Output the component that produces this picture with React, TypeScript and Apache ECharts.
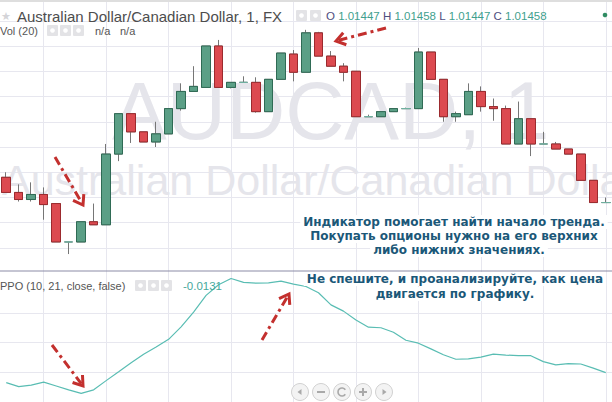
import React, { useEffect, useRef } from "react";
import * as echarts from "echarts";

// ---------- data ----------
const categories = [
  "10:00", "10:01", "10:02", "10:03", "10:04", "10:05", "10:06", "10:07", "10:08", "10:09",
  "10:10", "10:11", "10:12", "10:13", "10:14", "10:15", "10:16", "10:17", "10:18", "10:19",
  "10:20", "10:21", "10:22", "10:23", "10:24", "10:25", "10:26", "10:27", "10:28", "10:29",
  "10:30", "10:31", "10:32", "10:33", "10:34", "10:35", "10:36", "10:37", "10:38", "10:39",
  "10:40", "10:41", "10:42", "10:43", "10:44", "10:45", "10:46", "10:47", "10:48",
];

const openPrices = [
  1.0147, 1.01455, 1.01448, 1.01453, 1.01444, 1.01406, 1.01406, 1.01426, 1.01423, 1.01493,
  1.01533, 1.01515, 1.01505, 1.01513, 1.01538, 1.01555, 1.01559, 1.016, 1.01559, 1.01564,
  1.01564, 1.01535, 1.01567, 1.01592, 1.01574, 1.01613, 1.0159, 1.0158, 1.01575, 1.0153,
  1.0153, 1.01535, 1.01538, 1.01538, 1.01594, 1.01567, 1.0153, 1.01532, 1.01555, 1.0154,
  1.01538, 1.01503, 1.01528, 1.01503, 1.01503, 1.01498, 1.01493, 1.01467, 1.01445,
];
const closePrices = [
  1.01455, 1.01448, 1.01453, 1.01443, 1.01406, 1.01406, 1.01426, 1.01423, 1.01493, 1.01533,
  1.01515, 1.01505, 1.01513, 1.01538, 1.01555, 1.0156, 1.016, 1.01559, 1.01564, 1.01564,
  1.01535, 1.01567, 1.01593, 1.01574, 1.01613, 1.0159, 1.0158, 1.01574, 1.0153, 1.0153,
  1.01535, 1.01538, 1.01538, 1.01594, 1.01567, 1.0153, 1.01533, 1.01555, 1.0154, 1.01538,
  1.01503, 1.01528, 1.01503, 1.01503, 1.01498, 1.01493, 1.01467, 1.01445, 1.01445,
];
const lowPrices = [
  1.01455, 1.01446, 1.01446, 1.01428, 1.01406, 1.01394, 1.01406, 1.01423, 1.01423, 1.01486,
  1.01504, 1.01505, 1.015, 1.01513, 1.01536, 1.01555, 1.01559, 1.01559, 1.01558, 1.01564,
  1.01534, 1.01535, 1.01567, 1.01565, 1.01574, 1.0159, 1.0158, 1.01565, 1.0153, 1.0153,
  1.0153, 1.01535, 1.01538, 1.01538, 1.01567, 1.01525, 1.01525, 1.01532, 1.01535, 1.01526,
  1.01503, 1.01503, 1.01491, 1.01503, 1.01498, 1.01493, 1.01467, 1.01445, 1.01445,
];
const highPrices = [
  1.01475, 1.01463, 1.01465, 1.0146, 1.01444, 1.01406, 1.01426, 1.01444, 1.01503, 1.01533,
  1.01533, 1.01515, 1.01525, 1.01538, 1.01563, 1.0158, 1.016, 1.01606, 1.01564, 1.0157,
  1.01569, 1.01567, 1.01593, 1.01596, 1.01616, 1.01614, 1.01595, 1.01583, 1.01575, 1.01532,
  1.01535, 1.01538, 1.01539, 1.01598, 1.01594, 1.01567, 1.01535, 1.01563, 1.0156, 1.01548,
  1.01541, 1.01545, 1.01528, 1.01515, 1.01505, 1.01498, 1.01493, 1.01467, 1.0145,
];

const ppoValues = [
  -0.0135, -0.0148, -0.0143, -0.0133, -0.0146, -0.0159, -0.0171, -0.0159, -0.0128, -0.0098,
  -0.0068, -0.0039, -0.0015, 0.0011, 0.0053, 0.0103, 0.0159, 0.0195, 0.0216, 0.0203,
  0.02, 0.0201, 0.0207, 0.0197, 0.0189, 0.0168, 0.0127, 0.0106, 0.0076, 0.0052,
  0.005, 0.0035, 0.0008, -0.0002, -0.0021, -0.0041, -0.0056, -0.0055, -0.0049, -0.0039,
  -0.0042, -0.0044, -0.0044, -0.0064, -0.0075, -0.0071, -0.0072, -0.0086, -0.0101,
];

// axis scales
const PRICE_MIN = 1.014;
const PRICE_MAX = 1.01625;
const PRICE_STEP = 0.00025;
const PPO_MIN = -0.02;
const PPO_MAX = 0.0194;
const PPO_STEP = 0.01;
const verticalGridIndices = [3, 8, 13, 18, 23, 28, 33, 38, 43, 48];

// texts
const TITLE = "Australian Dollar/Canadian Dollar, 1, FX";
const ohlcLabels = ["O", "H", "L", "C"];
const ohlcValues = ["1.01447", "1.01458", "1.01447", "1.01458"];
const VOL_LABEL = "Vol (20)";
const VOL_VALUES = ["n/a", "n/a"];
const PPO_LABEL = "PPO (10, 21, close, false)";
const PPO_LAST = "-0.0131";
const WATERMARK_BIG = "AUDCAD, 1";
const WATERMARK_SMALL = "Australian Dollar/Canadian Dollar";
const note1 = [
  "Индикатор помогает найти начало тренда.",
  "Покупать опционы нужно на его верхних",
  "либо нижних значениях.",
];
const note2 = ["Не спешите, и проанализируйте, как цена", "двигается по графику."];

// ---------- styles ----------
const FONT = "'Liberation Sans', Arial, sans-serif";
const BOLD_FONT = "'DejaVu Sans', Verdana, sans-serif";
const GRID_COLOR = "#e7e7ef";
const GREEN = "#5b9f86";
const GREEN_BORDER = "#2f6b55";
const RED = "#dc4a50";
const RED_BORDER = "#9c2a2e";
const WICK = "#767676";
const DOJI = "#6fb1a0";
const ARROW = "#c3302e";
const NOTE = "#1b5878";
const GRID_LEFT = -1.3;
const GRID_RIGHT = -0.7;

function iconBox(x: number, y: number) {
  return [
    { type: "rect", shape: { x, y, width: 11, height: 11, r: 1 }, style: { fill: "#e3e3e6" }, z: 60 },
    { type: "circle", shape: { cx: x + 5.5, cy: y + 5.5, r: 2.3 }, style: { fill: "#ffffff" }, z: 61 },
  ];
}

function arrow(x1: number, y1: number, x2: number, y2: number) {
  const ang = Math.atan2(y2 - y1, x2 - x1);
  const len = 11;
  const spread = 0.6;
  const a1 = [x2 - len * Math.cos(ang - spread), y2 - len * Math.sin(ang - spread)];
  const a2 = [x2 - len * Math.cos(ang + spread), y2 - len * Math.sin(ang + spread)];
  return [
    {
      type: "line",
      shape: { x1, y1, x2: x2 - 3 * Math.cos(ang), y2: y2 - 3 * Math.sin(ang) },
      style: { stroke: ARROW, lineWidth: 3, lineDash: [9, 4, 3, 4] },
      z: 70,
    },
    {
      type: "polyline",
      shape: { points: [a1, [x2, y2], a2] },
      style: { stroke: ARROW, lineWidth: 3, fill: null },
      z: 70,
    },
  ];
}

function txt(x: number, y: number, text: string, size: number, fill: string, extra: any = {}) {
  return {
    type: "text",
    x,
    y,
    z: 60,
    style: {
      text,
      fontSize: size,
      fontFamily: FONT,
      fill,
      align: "left",
      verticalAlign: "middle",
      ...extra,
    },
  };
}

function noteLine(cx: number, cy: number, text: string) {
  return {
    type: "text",
    x: cx,
    y: cy,
    z: 65,
    style: {
      text,
      fontSize: 12,
      fontWeight: "bold",
      fontFamily: BOLD_FONT,
      fill: NOTE,
      align: "center",
      verticalAlign: "middle",
      backgroundColor: "#ffffff",
      padding: [1, 3, 1, 3],
    },
  };
}

function navButtons() {
  const cy = 392;
  const xs = [300, 321, 342, 363, 384];
  const g = "#a9a9a9";
  const out: any[] = [];
  xs.forEach((cx) => {
    out.push({
      type: "circle",
      shape: { cx, cy, r: 8.5 },
      style: { fill: "#f3f3f3", stroke: "#d2d2d2", lineWidth: 1 },
      z: 80,
    });
  });
  out.push({ type: "polygon", shape: { points: [[xs[0] - 2.5, cy], [xs[0] + 1.5, cy - 3], [xs[0] + 1.5, cy + 3]] }, style: { fill: g }, z: 81 });
  out.push({ type: "line", shape: { x1: xs[1] - 4, y1: cy, x2: xs[1] + 4, y2: cy }, style: { stroke: g, lineWidth: 2 }, z: 81 });
  out.push({ type: "arc", shape: { cx: xs[2], cy, r: 4, startAngle: 0.6, endAngle: 5.7 }, style: { stroke: g, lineWidth: 1.6, fill: null }, z: 81 });
  out.push({ type: "line", shape: { x1: xs[3] - 4, y1: cy, x2: xs[3] + 4, y2: cy }, style: { stroke: g, lineWidth: 2 }, z: 81 });
  out.push({ type: "line", shape: { x1: xs[3], y1: cy - 4, x2: xs[3], y2: cy + 4 }, style: { stroke: g, lineWidth: 2 }, z: 81 });
  out.push({ type: "polygon", shape: { points: [[xs[4] + 2.5, cy], [xs[4] - 1.5, cy - 3], [xs[4] - 1.5, cy + 3]] }, style: { fill: g }, z: 81 });
  return out;
}

export default function App() {
  const ref = useRef<HTMLDivElement>(null);

  useEffect(() => {
    if (!ref.current) return;
    const chart = echarts.init(ref.current, null, { renderer: "svg" });

    const wickData = categories.map((_, i) => [openPrices[i], closePrices[i], lowPrices[i], highPrices[i]]);
    const bodyData = categories.map((_, i) => [
      openPrices[i],
      closePrices[i],
      Math.min(openPrices[i], closePrices[i]),
      Math.max(openPrices[i], closePrices[i]),
    ]);

    const hiddenCat = (gridIndex: number) => ({
      type: "category",
      gridIndex,
      data: categories,
      boundaryGap: true,
      axisLine: { show: false },
      axisTick: { show: false },
      axisLabel: { show: false },
      splitLine: { show: false },
    });

    const ohlcRich =
      ohlcLabels.map((l, i) => `{l|${l}} {v|${ohlcValues[i]}}`).join(" ");

    const graphics: any[] = [
      { type: "rect", shape: { x: 0, y: 0, width: 612, height: 2 }, style: { fill: "#dedede" }, z: 60 },
      // watermark
      {
        type: "text", x: 112, y: 110, z: 1,
        style: { text: WATERMARK_BIG, fontSize: 82, fontFamily: FONT, fill: "#e5e5eb", align: "left", verticalAlign: "middle" },
      },
      {
        type: "text", x: 2, y: 180, z: 1,
        style: { text: WATERMARK_SMALL, fontSize: 43, fontFamily: FONT, fill: "#e5e5eb", align: "left", verticalAlign: "middle" },
      },
      // header
      txt(1, 16, "★", 11, "#d4d4d8"),
      txt(17, 16, TITLE, 15, "#4d4d4d"),
      ...iconBox(296, 10),
      ...iconBox(310, 10),
      {
        type: "text", x: 326, y: 16, z: 60,
        style: {
          text: ohlcRich,
          fontSize: 11.5,
          fontFamily: FONT,
          align: "left",
          verticalAlign: "middle",
          rich: {
            l: { fill: "#4e4e7e", fontSize: 11.5, fontFamily: FONT },
            v: { fill: "#3f9f8e", fontSize: 11.5, fontFamily: FONT },
          },
        },
      },
      { type: "circle", shape: { cx: 605, cy: 15, r: 2.3 }, style: { fill: "#2e8b62" }, z: 60 },
      txt(0, 31, VOL_LABEL, 11, "#555555"),
      ...iconBox(47, 25),
      ...iconBox(60, 25),
      ...iconBox(73, 25),
      txt(95, 31, VOL_VALUES[0], 11, "#555555"),
      txt(120, 31, VOL_VALUES[1], 11, "#555555"),
      // pane divider
      { type: "line", shape: { x1: 0, y1: 271, x2: 612, y2: 271 }, style: { stroke: "#8b8ba6", lineWidth: 1 }, z: 60 },
      txt(0, 286, PPO_LABEL, 11, "#555555"),
      ...iconBox(135, 280),
      ...iconBox(148, 280),
      ...iconBox(161, 280),
      txt(183, 286, PPO_LAST, 11.5, "#47a89c"),
      // notes
      noteLine(454, 222, note1[0]),
      noteLine(454, 236, note1[1]),
      noteLine(459, 250, note1[2]),
      noteLine(455, 279, note2[0]),
      noteLine(455, 294, note2[1]),
      // arrows
      ...arrow(386, 28, 336, 41),
      ...arrow(55, 157, 83, 205),
      ...arrow(52, 345, 83, 386),
      ...arrow(262, 340, 289, 294),
      ...navButtons(),
    ];

    const option: any = {
      animation: false,
      backgroundColor: "#ffffff",
      grid: [
        { left: GRID_LEFT, right: GRID_RIGHT, top: 20.75, height: 227.25 },
        { left: GRID_LEFT, right: GRID_RIGHT, top: 285, height: 124 },
        { left: GRID_LEFT, right: GRID_RIGHT, top: 0, height: 402 },
      ],
      xAxis: [
        hiddenCat(0),
        hiddenCat(1),
        {
          ...hiddenCat(2),
          splitLine: {
            show: true,
            alignWithLabel: true,
            interval: (i: number) => verticalGridIndices.indexOf(i) >= 0,
            lineStyle: { color: GRID_COLOR, width: 1 },
          },
        },
      ],
      yAxis: [
        {
          type: "value",
          gridIndex: 0,
          min: PRICE_MIN,
          max: PRICE_MAX,
          interval: PRICE_STEP,
          axisLine: { show: false },
          axisTick: { show: false },
          axisLabel: { show: false },
          splitLine: { show: true, lineStyle: { color: GRID_COLOR, width: 1 } },
        },
        {
          type: "value",
          gridIndex: 1,
          min: PPO_MIN,
          max: PPO_MAX,
          interval: PPO_STEP,
          axisLine: { show: false },
          axisTick: { show: false },
          axisLabel: { show: false },
          splitLine: { show: true, showMaxLine: false, lineStyle: { color: GRID_COLOR, width: 1 } },
        },
        { type: "value", gridIndex: 2, min: 0, max: 1, show: false },
      ],
      series: [
        {
          type: "candlestick",
          name: "wicks",
          xAxisIndex: 0,
          yAxisIndex: 0,
          data: wickData,
          barWidth: 9,
          clip: false,
          silent: true,
          itemStyle: {
            color: WICK,
            color0: WICK,
            borderColor: WICK,
            borderColor0: WICK,
            borderColorDoji: WICK,
            borderWidth: 1,
          },
        },
        {
          type: "candlestick",
          name: "AUDCAD",
          xAxisIndex: 0,
          yAxisIndex: 0,
          data: bodyData,
          barWidth: 9,
          clip: false,
          itemStyle: {
            color: GREEN,
            color0: RED,
            borderColor: GREEN_BORDER,
            borderColor0: RED_BORDER,
            borderColorDoji: DOJI,
            borderWidth: 1,
          },
        },
        {
          type: "line",
          name: "PPO",
          xAxisIndex: 1,
          yAxisIndex: 1,
          data: ppoValues,
          symbol: "none",
          clip: false,
          lineStyle: { color: "#59bdb3", width: 1.2 },
        },
      ],
      graphic: { elements: graphics },
    };

    chart.setOption(option);
    return () => chart.dispose();
  }, []);

  return (
    <div
      ref={ref}
      style={{ position: "absolute", left: 0, top: 0, width: 612, height: 402, background: "#ffffff" }}
    />
  );
}
